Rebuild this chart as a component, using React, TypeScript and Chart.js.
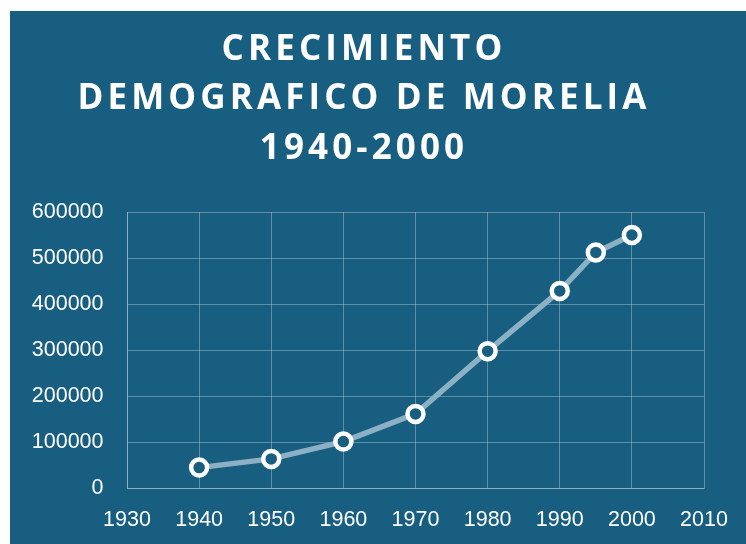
import React, { useEffect, useRef } from "react";
import { Chart, registerables } from "chart.js";

Chart.register(...registerables);

const years = [1940, 1950, 1960, 1970, 1980, 1990, 1995, 2000];
const population = [44304, 63245, 100828, 161040, 297544, 428486, 512169, 549996];
const titleLines = ["CRECIMIENTO", "DEMOGRAFICO DE MORELIA", "1940-2000"];
const xMin = 1930;
const xMax = 2010;
const yMin = 0;
const yMax = 600000;

const BG = "#175e80";

const spacingPlugin = {
  id: "spacing",
  beforeDraw(chart: any) {
    const ctx = chart.ctx;
    const tb = chart.titleBlock;
    if (tb && !tb.__wrapped) {
      const orig = tb.draw.bind(tb);
      tb.draw = function () {
        ctx.save();
        ctx.letterSpacing = "4.1px";
        ctx.translate(7, 0);
        orig();
        ctx.restore();
      };
      tb.__wrapped = true;
    }
  },
};

export default function App() {
  const ref = useRef<HTMLCanvasElement | null>(null);
  useEffect(() => {
    if (!ref.current) return;
    const chart = new Chart(ref.current, {
      type: "line",
      data: {
        datasets: [
          {
            data: years.map((y, i) => ({ x: y, y: population[i] })),
            borderColor: "#8cb1c4",
            borderWidth: 5.5,
            pointRadius: 8,
            pointHoverRadius: 8,
            pointBorderWidth: 4.5,
            pointBorderColor: "#ffffff",
            pointBackgroundColor: BG,
            tension: 0,
          },
        ],
      },
      options: {
        animation: false,
        responsive: false,
        layout: { padding: { left: 0, right: 42, top: 0, bottom: 0 } },
        plugins: {
          legend: { display: false },
          tooltip: { enabled: false },
          title: {
            display: true,
            text: titleLines,
            color: "#ffffff",
            font: { family: "'Open Sans', sans-serif", size: 35, weight: "bold", lineHeight: 49.5 / 35 },
            padding: { top: 14, bottom: 38.5 },
          },
        },
        scales: {
          x: {
            type: "linear",
            min: xMin,
            max: xMax,
            ticks: {
              stepSize: 10,
              color: "#ffffff",
              padding: 19,
              font: { family: "'Liberation Sans', Arial, sans-serif", size: 21.5 },
              callback: (v: any) => String(v),
            },
            grid: { color: "rgba(255,255,255,0.3)", drawTicks: false, lineWidth: 1 },
            border: { color: "rgba(255,255,255,0.3)" },
            afterFit: (s: any) => {
              s.height = 56;
              s.paddingLeft = 0;
              s.paddingRight = 0;
            },
          },
          y: {
            min: yMin,
            max: yMax,
            ticks: {
              stepSize: 100000,
              color: "#ffffff",
              padding: 23.5,
              font: { family: "'Liberation Sans', Arial, sans-serif", size: 21.5 },
              callback: (v: any) => String(v),
            },
            grid: { color: "rgba(255,255,255,0.3)", drawTicks: false, lineWidth: 1 },
            border: { color: "rgba(255,255,255,0.3)" },
            afterFit: (s: any) => {
              s.width = 117;
              s.paddingTop = 0;
              s.paddingBottom = 0;
            },
          },
        },
      },
      plugins: [spacingPlugin],
    } as any);
    return () => chart.destroy();
  }, []);
  return (
    <div
      style={{
        position: "absolute",
        left: 10,
        top: 11,
        width: 736,
        height: 533,
        background: BG,
        overflow: "hidden",
      }}
    >
      <canvas ref={ref} width={736} height={533} style={{ display: "block" }} />
    </div>
  );
}
